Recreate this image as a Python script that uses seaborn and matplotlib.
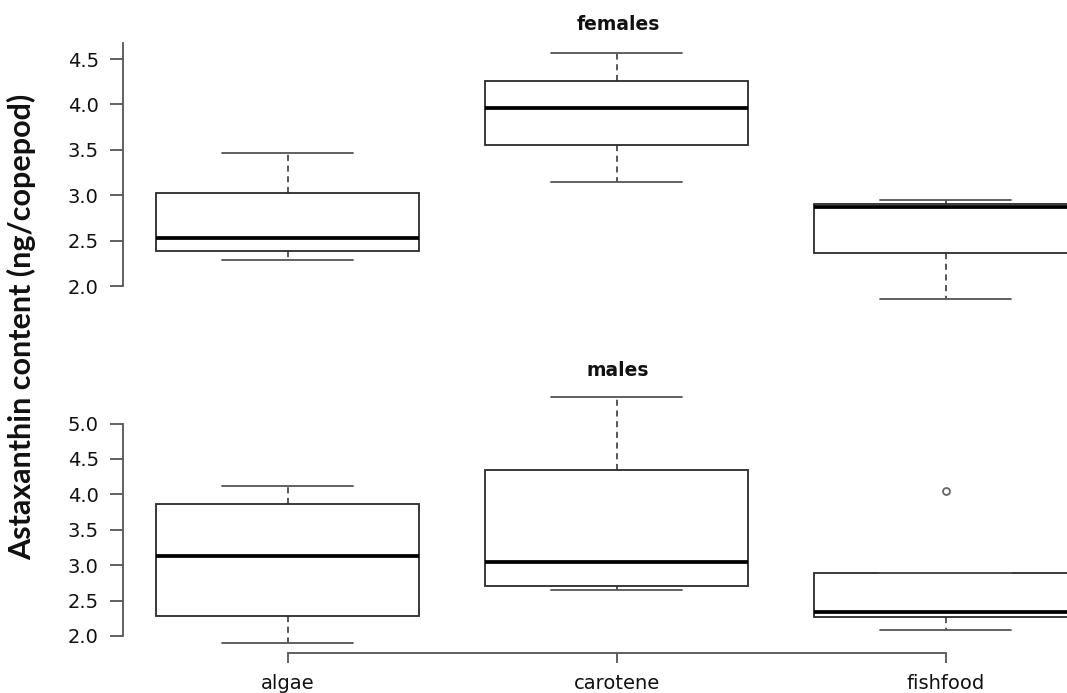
import pandas as pd
import matplotlib.pyplot as plt
import seaborn as sns

# Diets on the x axis
diets = ["algae", "carotene", "fishfood"]

# Five values per box (min, lower hinge, median, upper hinge, max)
females_algae = [2.29, 2.385, 2.53, 3.02, 3.47]
females_carotene = [3.15, 3.553, 3.96, 4.258, 4.566]
females_fishfood = [1.86, 2.36, 2.87, 2.90, 2.944]

males_algae = [1.897, 2.28, 3.13, 3.869, 4.119]
males_carotene = [2.655, 2.706, 3.04, 4.345, 5.371]
males_fishfood = [2.09, 2.264, 2.335, 2.894, 4.05]

yticks_females = [2.0, 2.5, 3.0, 3.5, 4.0, 4.5]
yticks_males = [2.0, 2.5, 3.0, 3.5, 4.0, 4.5, 5.0]


def make_frame(values_by_diet):
    rows = []
    for diet, vals in zip(diets, values_by_diet):
        for v in vals:
            rows.append({"diet": diet, "value": v})
    return pd.DataFrame(rows)


df_f = make_frame([females_algae, females_carotene, females_fishfood])
df_m = make_frame([males_algae, males_carotene, males_fishfood])

sns.set_style("white")
plt.rcParams["font.family"] = ["DejaVu Sans"]

fig = plt.figure(figsize=(10.67, 6.93), dpi=100)
ax_top = fig.add_axes([0.1153, 0.5548, 0.8847, 0.3828])
ax_bot = fig.add_axes([0.1153, 0.0576, 0.8847, 0.3833])

box_kw = dict(
    x="diet", y="value", order=diets, width=0.8, whis=1.5,
    color="white", linecolor="#2a2a2a", linewidth=1.3,
    medianprops={"color": "black", "linewidth": 2.7},
    whiskerprops={"color": "#2a2a2a", "linestyle": (0, (4, 3)), "linewidth": 1.1},
    capprops={"color": "#555555", "linewidth": 1.3},
    flierprops={"marker": "o", "markersize": 5, "markerfacecolor": "white",
                "markeredgecolor": "#666666", "markeredgewidth": 1.3},
)

sns.boxplot(data=df_f, ax=ax_top, **box_kw)
sns.boxplot(data=df_m, ax=ax_bot, **box_kw)

# caps are half the box width, like R's default
for ax in (ax_top, ax_bot):
    for line in ax.lines:
        xd = line.get_xdata()
        if len(xd) == 2 and xd[0] != xd[1]:
            yd = line.get_ydata()
            if yd[0] == yd[1] and abs(xd[1] - xd[0]) < 0.79:
                mid = (xd[0] + xd[1]) / 2
                line.set_xdata([mid - 0.2, mid + 0.2])

ax_top.set_xlim(-0.5, 2.369)
ax_bot.set_xlim(-0.5, 2.369)
ax_top.set_ylim(1.752, 4.674)
ax_bot.set_ylim(1.758, 5.51)

for ax in (ax_top, ax_bot):
    ax.set_xlabel("")
    ax.set_ylabel("")
    ax.spines["top"].set_visible(False)
    ax.spines["right"].set_visible(False)
    ax.spines["left"].set_color("#555555")
    ax.spines["left"].set_linewidth(1.3)
    ax.tick_params(axis="y", left=True, length=9.4, width=1.3, color="#555555",
                   pad=8, labelsize=14, labelcolor="#111111")

ax_top.set_yticks(yticks_females)
ax_top.set_yticklabels([f"{t:.1f}" for t in yticks_females])
ax_top.spines["left"].set_bounds(2.0, 4.674)
ax_top.spines["bottom"].set_visible(False)
ax_top.tick_params(axis="x", bottom=False, labelbottom=False)

ax_bot.set_yticks(yticks_males)
ax_bot.set_yticklabels([f"{t:.1f}" for t in yticks_males])
ax_bot.spines["left"].set_bounds(2.0, 5.0)
ax_bot.spines["bottom"].set_bounds(0, 2)
ax_bot.spines["bottom"].set_color("#555555")
ax_bot.spines["bottom"].set_linewidth(1.3)
ax_bot.tick_params(axis="x", bottom=True, length=7.2, width=1.3, color="#555555",
                   pad=8, labelsize=14, labelcolor="#111111")

fig.text(618 / 1067, 1 - 25 / 693, "females", ha="center", va="center",
         fontsize=13.5, fontweight="bold", color="#111111")
fig.text(618 / 1067, 1 - 370 / 693, "males", ha="center", va="center",
         fontsize=13.5, fontweight="bold", color="#111111")
fig.text(22 / 1067, 1 - 327 / 693, "Astaxanthin content (ng/copepod)",
         rotation=90, ha="center", va="center", fontsize=22, fontweight="bold",
         family=["Lato", "DejaVu Sans"], color="#111111")

fig.savefig("out.png", dpi=100)
